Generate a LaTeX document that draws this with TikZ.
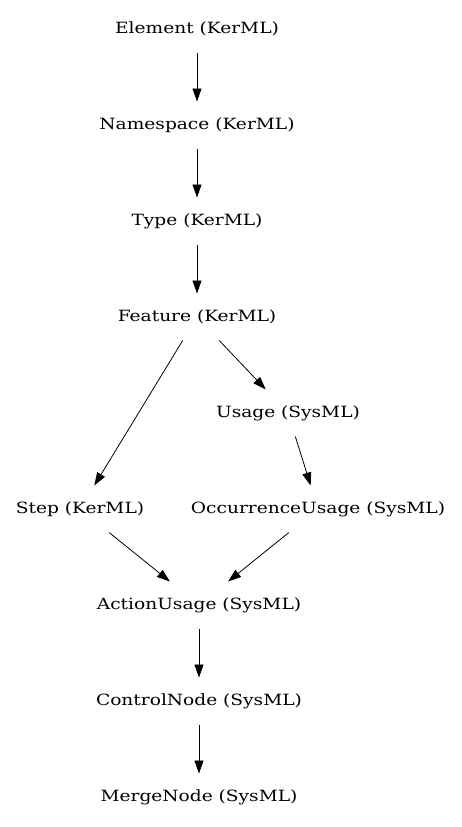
\documentclass[tikz,border=0pt]{standalone}
\usepackage{fontspec}
\setmainfont[FakeStretch=1.2]{DejaVu Serif}
\usetikzlibrary{arrows.meta}

\begin{document}
\begin{tikzpicture}[x=1pt,y=-1pt,
  cls/.style={minimum height=47pt,inner sep=0pt,outer sep=0pt,font=\fontsize{15.5}{18}\selectfont},
  gen/.style={-{Triangle[length=13pt,width=9pt]},line width=0.8pt}]
\useasboundingbox (0,0) rectangle (461,827);

\begin{scope}
\node [cls] (element) at (197,29) {Element (KerML)};
\node [cls] (namespace) at (197,125) {Namespace (KerML)};
\node [cls] (type) at (197,221) {Type (KerML)};
\node [cls] (feature) at (197,317) {Feature (KerML)};
\end{scope}

\begin{scope}
\node [cls] (usage) at (288,413) {Usage (SysML)};
\node [cls] (step) at (80,509) {Step (KerML)};
\node [cls] (occurrence) at (318,509) {OccurrenceUsage (SysML)};
\end{scope}

\begin{scope}
\node [cls] (action) at (199,605) {ActionUsage (SysML)};
\node [cls] (control) at (199,701) {ControlNode (SysML)};
\node [cls] (merge) at (199,797) {MergeNode (SysML)};
\end{scope}

\draw [gen] (element) -- (namespace);
\draw [gen] (namespace) -- (type);
\draw [gen] (type) -- (feature);
\draw [gen] (feature) -- (step);
\draw [gen] (feature) -- (usage);
\draw [gen] (usage) -- (occurrence);
\draw [gen] (step) -- (action);
\draw [gen] (occurrence) -- (action);
\draw [gen] (action) -- (control);
\draw [gen] (control) -- (merge);

\end{tikzpicture}
\end{document}
